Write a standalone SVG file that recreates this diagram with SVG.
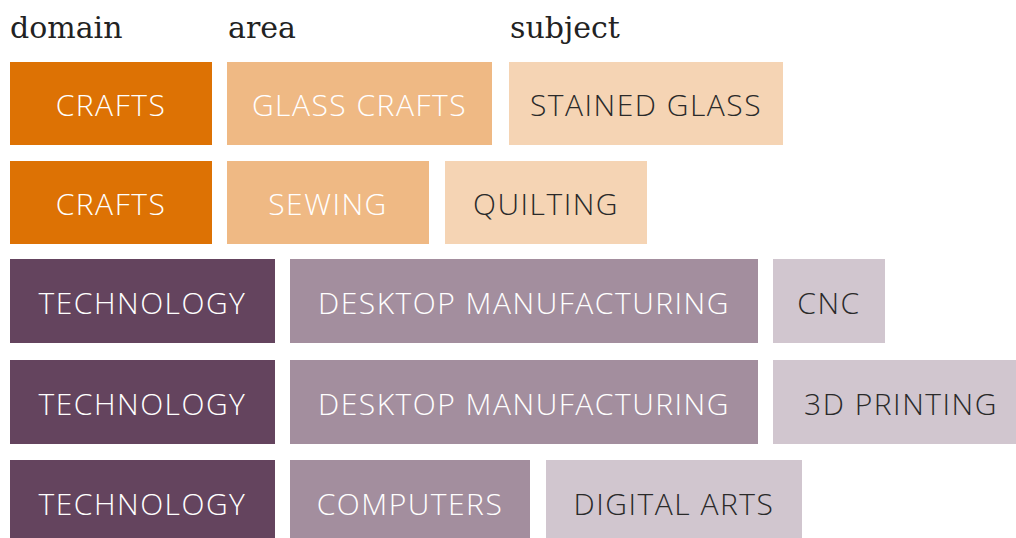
<svg xmlns="http://www.w3.org/2000/svg" width="1016" height="538" viewBox="0 0 1016 538">
<style>
.h{font-family:"DejaVu Serif","Liberation Serif",serif;font-size:30px;fill:#222}
.t{font-family:"Open Sans","Noto Sans",sans-serif;font-weight:300;font-size:30px;letter-spacing:1.5px;text-anchor:middle}
.w{fill:#fff}.d{fill:#2a2a2a}
.c1{fill:#dd7204}.c2{fill:#efb984}.c3{fill:#f5d4b4}
.p1{fill:#64445e}.p2{fill:#a38e9e}.p3{fill:#d1c6cf}
</style>
<rect width="1016" height="538" fill="#fff"/>
<g id="headers">
<text class="h" x="10" y="38">domain</text>
<text class="h" x="228" y="38">area</text>
<text class="h" x="510" y="38">subject</text>
</g>
<g id="connectors"></g>
<g id="r1-domain"><rect class="c1" x="10" y="62" width="202" height="83"/><text class="t w" x="111" y="116">CRAFTS</text></g>
<g id="r1-area"><rect class="c2" x="227" y="62" width="265" height="83"/><text class="t w" x="359.5" y="116">GLASS CRAFTS</text></g>
<g id="r1-subject"><rect class="c3" x="509" y="62" width="274" height="83"/><text class="t d" x="646" y="116">STAINED GLASS</text></g>
<g id="r2-domain"><rect class="c1" x="10" y="161" width="202" height="83"/><text class="t w" x="111" y="215">CRAFTS</text></g>
<g id="r2-area"><rect class="c2" x="227" y="161" width="202" height="83"/><text class="t w" x="328" y="215">SEWING</text></g>
<g id="r2-subject"><rect class="c3" x="445" y="161" width="202" height="83"/><text class="t d" x="546" y="215">QUILTING</text></g>
<g id="r3-domain"><rect class="p1" x="10" y="259" width="265" height="84"/><text class="t w" x="142.5" y="314">TECHNOLOGY</text></g>
<g id="r3-area"><rect class="p2" x="290" y="259" width="468" height="84"/><text class="t w" x="524" y="314">DESKTOP MANUFACTURING</text></g>
<g id="r3-subject"><rect class="p3" x="773" y="259" width="112" height="84"/><text class="t d" x="829" y="314">CNC</text></g>
<g id="r4-domain"><rect class="p1" x="10" y="360" width="265" height="84"/><text class="t w" x="142.5" y="415">TECHNOLOGY</text></g>
<g id="r4-area"><rect class="p2" x="290" y="360" width="468" height="84"/><text class="t w" x="524" y="415">DESKTOP MANUFACTURING</text></g>
<g id="r4-subject"><rect class="p3" x="773" y="360" width="243" height="84"/><text class="t d" x="901" y="415">3D PRINTING</text></g>
<g id="r5-domain"><rect class="p1" x="10" y="460" width="265" height="84"/><text class="t w" x="142.5" y="515">TECHNOLOGY</text></g>
<g id="r5-area"><rect class="p2" x="290" y="460" width="240" height="84"/><text class="t w" x="410" y="515">COMPUTERS</text></g>
<g id="r5-subject"><rect class="p3" x="546" y="460" width="256" height="84"/><text class="t d" x="674" y="515">DIGITAL ARTS</text></g>
</svg>
